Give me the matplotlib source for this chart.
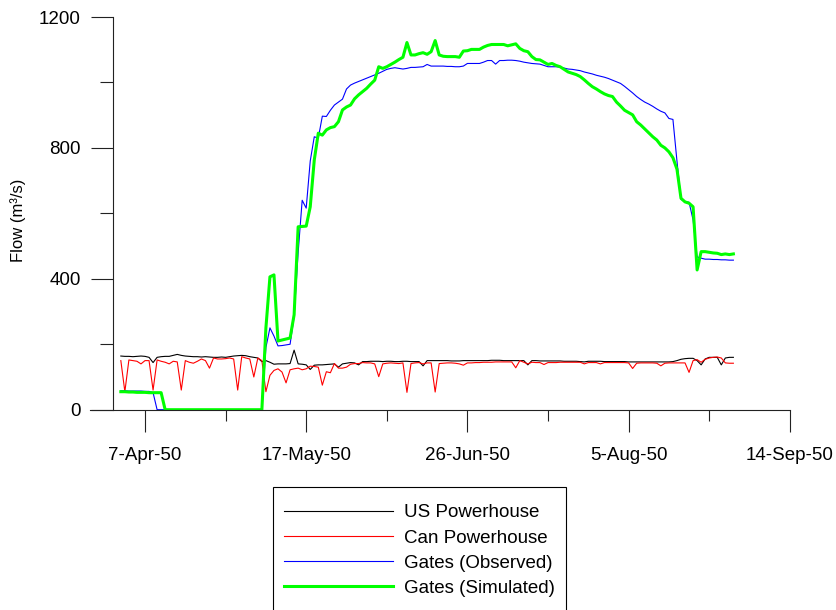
import pandas as pd
import matplotlib
matplotlib.use("Agg")
import matplotlib.pyplot as plt
import matplotlib.dates as mdates
from matplotlib.patches import Rectangle
from matplotlib.ticker import FixedLocator, FuncFormatter

plt.rcParams["font.family"] = ["Liberation Sans", "DejaVu Sans"]
plt.rcParams["font.size"] = 13.5

# Daily flows, 1-Apr-1950 .. 31-Aug-1950 (m3/s)
dates = pd.date_range("1950-04-01", "1950-08-31", freq="D")

us_powerhouse = [
    164, 163, 163, 162, 163, 164, 163, 160, 144, 160,
    162, 163, 163, 166, 169, 166, 164, 163, 162, 162,
    161, 162, 161, 160, 160, 161, 160, 162, 164, 165,
    166, 165, 162, 160, 158, 147, 150, 145, 139, 140,
    140, 140, 141, 182, 140, 139, 137, 123, 136, 137,
    137, 138, 139, 140, 130, 140, 142, 144, 143, 137,
    147, 147, 148, 148, 148, 147, 148, 148, 147, 147,
    148, 148, 147, 147, 147, 134, 150, 150, 150, 150,
    150, 150, 149, 149, 149, 150, 150, 150, 150, 150,
    150, 150, 151, 151, 151, 150, 150, 150, 150, 150,
    150, 137, 150, 150, 149, 149, 149, 149, 149, 149,
    148, 148, 148, 148, 147, 146, 148, 148, 148, 148,
    147, 147, 147, 147, 147, 147, 146, 146, 146, 146,
    146, 146, 146, 146, 146, 146, 146, 147, 150, 154,
    156, 157, 157, 150, 137, 155, 160, 160, 160, 137,
    158, 160, 160,
]

can_powerhouse = [
    150, 55, 152, 150, 148, 140, 150, 150, 60, 152,
    148, 145, 140, 148, 146, 60, 150, 145, 142, 148,
    155, 150, 127, 158, 155, 155, 156, 158, 155, 60,
    162, 158, 155, 100, 158, 150, 55, 105, 120, 125,
    115, 82, 122, 125, 127, 122, 125, 133, 132, 130,
    75, 116, 113, 141, 127, 127, 130, 139, 141, 141,
    144, 143, 143, 140, 101, 140, 142, 143, 142, 141,
    143, 53, 141, 143, 144, 140, 143, 143, 54, 141,
    142, 143, 143, 142, 140, 136, 143, 143, 144, 144,
    145, 145, 145, 146, 146, 146, 146, 146, 128, 150,
    145, 140, 145, 144, 144, 138, 144, 144, 144, 145,
    145, 145, 145, 145, 145, 140, 144, 144, 144, 140,
    144, 144, 144, 144, 144, 144, 143, 126, 142, 143,
    143, 143, 143, 142, 134, 142, 143, 143, 143, 143,
    143, 114, 150, 153, 145, 154, 158, 160, 161, 158,
    143, 142, 142,
]

gates_observed = [
    58, 58, 57, 57, 57, 57, 56, 56, 52, 0,
    0, 0, 0, 0, 0, 0, 0, 0, 0, 0,
    0, 0, 0, 0, 0, 0, 0, 0, 0, 0,
    0, 0, 0, 0, 0, 0, 190, 250, 225, 195,
    196, 198, 200, 285, 480, 640, 616, 760, 834, 830,
    897, 896, 915, 931, 940, 949, 980, 992, 998, 1003,
    1008, 1013, 1018, 1023, 1028, 1034, 1040, 1043, 1045, 1043,
    1041, 1043, 1046, 1046, 1047, 1048, 1055, 1050, 1050, 1050,
    1050, 1049, 1049, 1048, 1048, 1050, 1058, 1058, 1058, 1058,
    1062, 1067, 1067, 1056, 1067, 1067, 1068, 1068, 1067, 1065,
    1062, 1060, 1058, 1057, 1056, 1052, 1048, 1048, 1048, 1047,
    1044, 1041, 1040, 1038, 1036, 1032, 1029, 1026, 1022, 1019,
    1016, 1012, 1007, 1002, 997, 988, 978, 968, 957, 948,
    940, 934, 927, 919, 912, 907, 890, 887, 760, 643,
    636, 634, 580, 467, 463, 460, 460, 459, 459, 458,
    458, 457, 457,
]

gates_simulated = [
    55, 55, 54, 54, 53, 53, 53, 52, 52, 52,
    52, 0, 0, 0, 0, 0, 0, 0, 0, 0,
    0, 0, 0, 0, 0, 0, 0, 0, 0, 0,
    0, 0, 0, 0, 0, 0, 250, 406, 412, 210,
    213, 216, 219, 290, 559, 560, 561, 620, 763, 845,
    839, 855, 862, 865, 880, 916, 925, 931, 950, 962,
    972, 982, 995, 1007, 1048, 1043, 1048, 1055, 1062, 1070,
    1077, 1122, 1084, 1084, 1088, 1091, 1086, 1094, 1128, 1084,
    1080, 1079, 1079, 1079, 1077, 1096, 1097, 1101, 1101, 1101,
    1108, 1113, 1116, 1116, 1116, 1116, 1112, 1115, 1118, 1104,
    1097, 1094, 1079, 1070, 1069, 1062, 1055, 1058, 1052, 1048,
    1040, 1032, 1028, 1024, 1018, 1008, 997, 987, 980, 972,
    965, 960, 957, 940, 928, 915, 908, 901, 880, 870,
    858, 846, 834, 824, 808, 800, 788, 770, 735, 646,
    635, 631, 620, 427, 483, 483, 481, 479, 478, 474,
    476, 474, 476,
]

major_ticks = pd.date_range("1950-04-07", periods=5, freq="40D")
minor_ticks = pd.date_range("1950-04-27", periods=4, freq="40D")

# Figure, axes placed in pixels
W, H = 836, 610
fig = plt.figure(figsize=(W / 100, H / 100), dpi=100)
ax = fig.add_axes([90 / W, 1 - 409.7 / H, 700 / W, (409.7 - 17) / H])

ax.plot(dates, us_powerhouse, color="black", lw=0.8, label="US Powerhouse")
ax.plot(dates, can_powerhouse, color="red", lw=0.8, label="Can Powerhouse")
ax.plot(dates, gates_observed, color="blue", lw=0.8, label="Gates (Observed)")
ax.plot(dates, gates_simulated, color="#00ff00", lw=2.2, label="Gates (Simulated)")

t0 = mdates.date2num(pd.Timestamp("1950-04-07"))
ax.set_xlim(t0 - 13.65, t0 + 160.05)
ax.set_ylim(0, 1200)

# axes lines
for side in ["top", "right"]:
    ax.spines[side].set_visible(False)
ax.spines["left"].set_position(("data", mdates.date2num(pd.Timestamp("1950-03-30"))))
for side in ["left", "bottom"]:
    ax.spines[side].set_linewidth(0.8)
    ax.spines[side].set_color("#222222")

ax.set_yticks([0, 400, 800, 1200])
ax.set_yticks([200, 600, 1000], minor=True)
ax.xaxis.set_major_locator(FixedLocator(mdates.date2num(major_ticks)))
ax.xaxis.set_minor_locator(FixedLocator(mdates.date2num(minor_ticks)))
ax.xaxis.set_major_formatter(FuncFormatter(
    lambda v, p: "{}-{}".format(mdates.num2date(v).day, mdates.num2date(v).strftime("%b-%y"))))

ax.tick_params(axis="y", which="major", direction="out", length=16, width=0.8, pad=7, color="#222222")
ax.tick_params(axis="y", which="minor", direction="out", length=9.4, width=0.8, color="#222222")
ax.tick_params(axis="x", which="major", direction="out", length=16, width=0.8, pad=11, color="#222222")
ax.tick_params(axis="x", which="minor", direction="out", length=8, width=0.8, color="#222222")

fig.text(18.5 / W, 1 - 220 / H, "Flow (m³/s)", rotation=90, ha="center", va="center", fontsize=12)

# legend entries without frame; the box is drawn separately and runs off the bottom
fs_px = 13.5 * 100 / 72
pad = 0.92
leg = fig.legend(loc="upper left",
                 bbox_to_anchor=((284 - pad * fs_px) / W, 1 - 487 / H),
                 bbox_transform=fig.transFigure, borderaxespad=0, frameon=False,
                 borderpad=pad, handlelength=5.8, handletextpad=0.6, labelspacing=0.43)
fig.patches.append(Rectangle((273 / W, -0.05), (566 - 273) / W, 1 - 487 / H + 0.05,
                             transform=fig.transFigure, fill=False,
                             edgecolor="black", linewidth=0.8))

fig.savefig("out.png", dpi=100)
